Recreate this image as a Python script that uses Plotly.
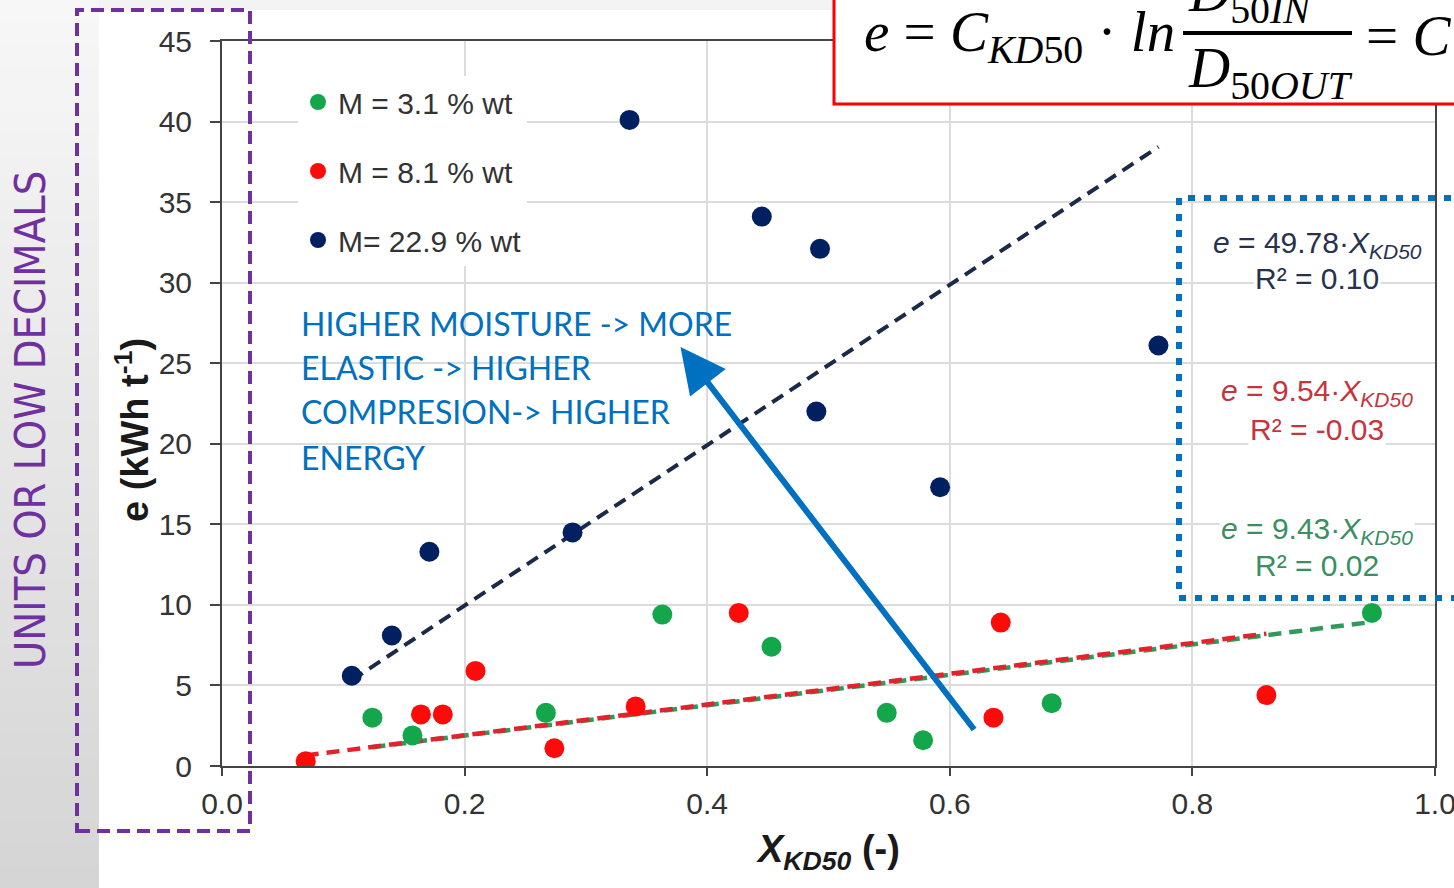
import plotly.graph_objects as go

# ---------------- data ----------------
x_m31 = [0.124, 0.157, 0.267, 0.363, 0.453, 0.548, 0.578, 0.684, 0.948]
e_m31 = [3.0, 1.9, 3.3, 9.4, 7.4, 3.3, 1.6, 3.9, 9.5]

x_m81 = [0.069, 0.164, 0.182, 0.209, 0.274, 0.341, 0.426, 0.636, 0.642, 0.861]
e_m81 = [0.3, 3.2, 3.2, 5.9, 1.1, 3.7, 9.5, 3.0, 8.9, 4.4]

x_m229 = [0.107, 0.140, 0.171, 0.289, 0.336, 0.445, 0.493, 0.490, 0.592, 0.772]
e_m229 = [5.6, 8.1, 13.3, 14.5, 40.1, 34.1, 32.1, 22.0, 17.3, 26.1]

series_names = ["M = 3.1 % wt", "M = 8.1 % wt", "M= 22.9 % wt"]
slopes = [9.43, 9.54, 49.78]
r2_values = ["0.02", "-0.03", "0.10"]

x_ticks = [0.0, 0.2, 0.4, 0.6, 0.8, 1.0]
y_ticks = [0, 5, 10, 15, 20, 25, 30, 35, 40, 45]

# ---------------- geometry helpers (pixel -> paper) ----------------
W, H = 1454, 888
L, R, T, B = 222, 1435, 41, 766


def px(p):
    return (p - L) / (R - L)


def py(p):
    return (B - p) / (B - T)


marker_cols = ["#13A64B", "#FF0A0A", "#002060"]
line_cols = ["#2F9A5C", "#E3222B", "#1B2A48"]
text_cols = ["#3A8F62", "#C7343C", "#26324F"]

fig = go.Figure()

xs = [x_m31, x_m81, x_m229]
es = [e_m31, e_m81, e_m229]

# trend lines e = slope * X (drawn over data range)
for i in [0, 1, 2]:
    x0, x1 = min(xs[i]), max(xs[i])
    fig.add_trace(go.Scatter(
        x=[x0, x1], y=[slopes[i] * x0, slopes[i] * x1], mode="lines",
        line=dict(color=line_cols[i], width=4.5 if i < 2 else 4, dash="13px,8px"),
        showlegend=False, hoverinfo="skip"))

for i in range(3):
    fig.add_trace(go.Scatter(
        x=xs[i], y=es[i], mode="markers", name=series_names[i],
        legendgroup=str(i),
        marker=dict(color=marker_cols[i], size=20, line=dict(width=0))))

shapes = []
# left grey gradient strip
n = 40
c0, c1 = 247, 213
for k in range(n):
    c = int(round(c0 + (c1 - c0) * k / (n - 1)))
    shapes.append(dict(type="rect", xref="paper", yref="paper",
                       x0=px(0), x1=px(99), y0=py(H * (k + 1) / n + 1), y1=py(H * k / n),
                       fillcolor=f"rgb({c},{c},{c})", line=dict(width=0), layer="below"))
# top thin grey band
shapes.append(dict(type="rect", xref="paper", yref="paper", x0=px(99), x1=px(W + 5),
                   y0=py(10), y1=py(-2), fillcolor="#f3f3f3", line=dict(width=0), layer="below"))
# purple dashed box
shapes.append(dict(type="rect", xref="paper", yref="paper", x0=px(77), x1=px(250),
                   y0=py(831), y1=py(10), line=dict(color="#7030A0", width=4, dash="13px,7px"),
                   fillcolor="rgba(0,0,0,0)", layer="above"))
# blue dotted box
shapes.append(dict(type="rect", xref="paper", yref="paper", x0=px(1179), x1=px(1475),
                   y0=py(598), y1=py(198), line=dict(color="#0070C0", width=6, dash="7px,9px"),
                   fillcolor="rgba(0,0,0,0)", layer="above"))
# red formula box
shapes.append(dict(type="rect", xref="paper", yref="paper", x0=px(834), x1=px(1475),
                   y0=py(104), y1=py(-20), line=dict(color="#FF0000", width=3),
                   fillcolor="white", layer="above"))
# fraction bar
shapes.append(dict(type="line", xref="paper", yref="paper", x0=px(1183), x1=px(1352),
                   y0=py(33), y1=py(33), line=dict(color="black", width=4), layer="above"))

ann = []
# formula
ff = dict(family="Liberation Serif", size=57, color="black")
ann.append(dict(xref="paper", yref="paper", x=px(862), y=py(36), xanchor="left", yanchor="middle",
                text="<i>e</i> = <i>C</i><sub><i>KD</i>50</sub> · <i>ln</i>", showarrow=False, font=ff))
ann.append(dict(xref="paper", yref="paper", x=px(1186), y=py(-4), xanchor="left", yanchor="middle",
                text="<i>D</i><sub>50<i>IN</i></sub>", showarrow=False, font=ff))
ann.append(dict(xref="paper", yref="paper", x=px(1186), y=py(72), xanchor="left", yanchor="middle",
                text="<i>D</i><sub>50<i>OUT</i></sub>", showarrow=False, font=ff))
ann.append(dict(xref="paper", yref="paper", x=px(1364), y=py(36), xanchor="left", yanchor="middle",
                text="= <i>C</i>", showarrow=False, font=ff))

# regression labels in blue box
eq_y = [(530, 565), (393, 429), (244, 278)]
for i in range(3):
    ann.append(dict(xref="paper", yref="paper", x=px(1317), y=py(eq_y[i][0]), xanchor="center",
                    yanchor="middle", bgcolor="white",
                    text=f"<i>e</i> = {slopes[i]:.2f}·<i>X<sub>KD50</sub></i>", showarrow=False,
                    font=dict(family="Liberation Sans", size=30, color=text_cols[i])))
    ann.append(dict(xref="paper", yref="paper", x=px(1317), y=py(eq_y[i][1]), xanchor="center",
                    yanchor="middle", bgcolor="white",
                    text=f"R² = {r2_values[i]}", showarrow=False,
                    font=dict(family="Liberation Sans", size=30, color=text_cols[i])))

# blue comment text
lines = ["HIGHER MOISTURE -> MORE", "ELASTIC -> HIGHER", "COMPRESION-> HIGHER", "ENERGY"]
for j, (t, yy) in enumerate(zip(lines, [323, 367, 412, 457])):
    ann.append(dict(xref="paper", yref="paper", x=px(299), y=py(yy), xanchor="left", yanchor="middle",
                    text=t, showarrow=False, font=dict(family="Lato", size=32, color="#0070C0")))

# arrow
ann.append(dict(xref="x", yref="y", axref="x", ayref="y", x=0.378, y=26.0, ax=0.621, ay=2.17,
                text="", showarrow=True, arrowhead=2, arrowsize=1.5, arrowwidth=6,
                arrowcolor="#0070C0", standoff=0))

# axis titles
ann.append(dict(xref="paper", yref="paper", x=px(132), y=py(430), xanchor="center", yanchor="middle",
                textangle=-90, text="<b>e (kWh t<sup>-1</sup>)</b>", showarrow=False,
                font=dict(family="Liberation Sans", size=38, color="#1a1a1a")))
ann.append(dict(xref="paper", yref="paper", x=px(828), y=py(852), xanchor="center", yanchor="middle",
                text="<b><i>X<sub>KD50</sub></i> (-)</b>", showarrow=False,
                font=dict(family="Liberation Sans", size=38, color="#1a1a1a")))

# purple side text
ann.append(dict(xref="paper", yref="paper", x=px(30), y=py(420), xanchor="center", yanchor="middle",
                textangle=-90, text="UNITS OR LOW DECIMALS", showarrow=False,
                font=dict(family="DejaVu Sans Condensed, Roboto Condensed, Roboto", size=43,
                          color="#7030A0")))

fig.update_layout(
    width=W, height=H, autosize=False,
    margin=dict(l=L, r=W - R, t=T, b=H - B, pad=0, autoexpand=False),
    paper_bgcolor="white", plot_bgcolor="white",
    shapes=shapes, annotations=ann,
    showlegend=True,
    legend=dict(x=px(298), y=py(76), xanchor="left", yanchor="top", bgcolor="white",
                font=dict(family="Liberation Sans", size=30, color="#333333"),
                tracegroupgap=27, itemsizing="trace"),
    xaxis=dict(range=[0, 1], tickvals=x_ticks, tickformat=".1f", showgrid=True,
               gridcolor="#dcdcdc", gridwidth=1.5, showline=True, linecolor="#444444",
               linewidth=2, mirror=True, ticks="outside", ticklen=8, tickcolor="#444444",
               tickwidth=2, zeroline=False, ticklabelstandoff=2, ticklabeloverflow="allow",
               automargin=False,
               tickfont=dict(family="Liberation Sans", size=30, color="#333333")),
    yaxis=dict(range=[0, 45], tickvals=y_ticks, showgrid=True,
               gridcolor="#dcdcdc", gridwidth=1.5, showline=True, linecolor="#444444",
               linewidth=2, mirror=True, ticks="outside", ticklen=10, tickcolor="#444444",
               tickwidth=2, zeroline=False, ticklabelstandoff=12, automargin=False,
               tickfont=dict(family="Liberation Sans", size=30, color="#333333")),
)

fig.write_html("out.html")
